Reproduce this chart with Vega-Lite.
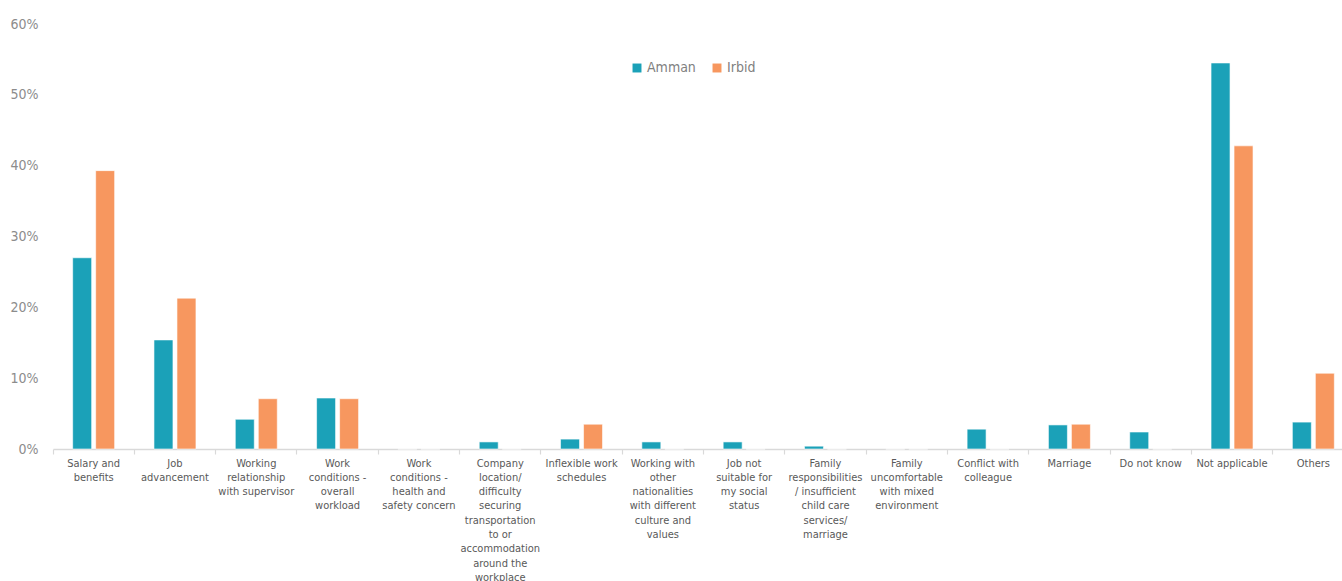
{
  "$schema": "https://vega.github.io/schema/vega-lite/v6.json",
  "width": 1301,
  "height": 425,
  "autosize": {"type": "none"},
  "padding": {"left": 53, "top": 24, "right": 0, "bottom": 132},
  "background": "white",
  "config": {
    "view": {"stroke": null},
    "font": "'DejaVu Sans Condensed', Roboto, sans-serif"
  },
  "data": {
    "values": [
      {"reason": "Salary and benefits", "city": "Amman", "pct": 27.0},
      {"reason": "Salary and benefits", "city": "Irbid", "pct": 39.3},
      {"reason": "Job advancement", "city": "Amman", "pct": 15.4},
      {"reason": "Job advancement", "city": "Irbid", "pct": 21.3},
      {"reason": "Working relationship with supervisor", "city": "Amman", "pct": 4.2},
      {"reason": "Working relationship with supervisor", "city": "Irbid", "pct": 7.1},
      {"reason": "Work conditions - overall workload", "city": "Amman", "pct": 7.2},
      {"reason": "Work conditions - overall workload", "city": "Irbid", "pct": 7.1},
      {"reason": "Work conditions - health and safety concern", "city": "Amman", "pct": 0},
      {"reason": "Work conditions - health and safety concern", "city": "Irbid", "pct": 0},
      {"reason": "Company location/ difficulty securing transportation to or accommodation around the workplace", "city": "Amman", "pct": 1.0},
      {"reason": "Company location/ difficulty securing transportation to or accommodation around the workplace", "city": "Irbid", "pct": 0},
      {"reason": "Inflexible work schedules", "city": "Amman", "pct": 1.4},
      {"reason": "Inflexible work schedules", "city": "Irbid", "pct": 3.5},
      {"reason": "Working with other nationalities with different culture and values", "city": "Amman", "pct": 1.0},
      {"reason": "Working with other nationalities with different culture and values", "city": "Irbid", "pct": 0},
      {"reason": "Job not suitable for my social status", "city": "Amman", "pct": 1.0},
      {"reason": "Job not suitable for my social status", "city": "Irbid", "pct": 0},
      {"reason": "Family responsibilities / insufficient child care services/ marriage", "city": "Amman", "pct": 0.4},
      {"reason": "Family responsibilities / insufficient child care services/ marriage", "city": "Irbid", "pct": 0},
      {"reason": "Family uncomfortable with mixed environment", "city": "Amman", "pct": 0},
      {"reason": "Family uncomfortable with mixed environment", "city": "Irbid", "pct": 0},
      {"reason": "Conflict with colleague", "city": "Amman", "pct": 2.8},
      {"reason": "Conflict with colleague", "city": "Irbid", "pct": 0},
      {"reason": "Marriage", "city": "Amman", "pct": 3.4},
      {"reason": "Marriage", "city": "Irbid", "pct": 3.5},
      {"reason": "Do not know", "city": "Amman", "pct": 2.4},
      {"reason": "Do not know", "city": "Irbid", "pct": 0},
      {"reason": "Not applicable", "city": "Amman", "pct": 54.5},
      {"reason": "Not applicable", "city": "Irbid", "pct": 42.8},
      {"reason": "Others", "city": "Amman", "pct": 3.8},
      {"reason": "Others", "city": "Irbid", "pct": 10.7}
    ]
  },
  "mark": {"type": "bar", "stroke": "white", "strokeWidth": 0.6},
  "encoding": {
    "x": {
      "field": "reason",
      "type": "nominal",
      "sort": null,
      "scale": {"paddingInner": 0, "paddingOuter": 0},
      "axis": {
        "title": null,
        "labelAngle": 0,
        "bandPosition": 0,
        "domainColor": "#d9d9d9",
        "domainWidth": 1.5,
        "tickColor": "#d9d9d9",
        "tickWidth": 1.2,
        "tickSize": 5,
        "labelPadding": 3,
        "labelFontSize": 11,
        "labelColor": "#595959",
        "labelLineHeight": 14.3,
        "labelBaseline": "top",
        "labelLimit": 0,
        "labelOverlap": false,
        "labelExpr": "{'Salary and benefits': ['Salary and','benefits'], 'Job advancement': ['Job','advancement'], 'Working relationship with supervisor': ['Working','relationship','with supervisor'], 'Work conditions - overall workload': ['Work','conditions -','overall','workload'], 'Work conditions - health and safety concern': ['Work','conditions -','health and','safety concern'], 'Company location/ difficulty securing transportation to or accommodation around the workplace': ['Company','location/','difficulty','securing','transportation','to or','accommodation','around the','workplace'], 'Inflexible work schedules': ['Inflexible work','schedules'], 'Working with other nationalities with different culture and values': ['Working with','other','nationalities','with different','culture and','values'], 'Job not suitable for my social status': ['Job  not','suitable for','my social','status'], 'Family responsibilities / insufficient child care services/ marriage': ['Family','responsibilities','/ insufficient','child care','services/','marriage'], 'Family uncomfortable with mixed environment': ['Family','uncomfortable','with mixed','environment'], 'Conflict with colleague': ['Conflict with','colleague']}[datum.label] || datum.label"
      }
    },
    "xOffset": {
      "field": "city",
      "type": "nominal",
      "scale": {"paddingInner": 0.174, "paddingOuter": 0.855}
    },
    "y": {
      "field": "pct",
      "type": "quantitative",
      "scale": {"domain": [0, 60], "nice": false},
      "axis": {
        "title": null,
        "values": [0, 10, 20, 30, 40, 50, 60],
        "labelExpr": "datum.value + '%'",
        "domain": false,
        "ticks": false,
        "grid": false,
        "labelPadding": 15,
        "labelFontSize": 14,
        "labelColor": "#8c8c8c"
      }
    },
    "color": {
      "field": "city",
      "type": "nominal",
      "scale": {"domain": ["Amman", "Irbid"], "range": ["#1ba1b8", "#f7975f"]},
      "legend": {
        "title": null,
        "orient": "none",
        "legendX": 577,
        "legendY": 37,
        "direction": "horizontal",
        "symbolType": "square",
        "symbolSize": 80,
        "symbolStrokeWidth": 0,
        "labelFontSize": 14,
        "labelColor": "#808080",
        "columnPadding": 14,
        "labelOffset": 3
      }
    }
  }
}
